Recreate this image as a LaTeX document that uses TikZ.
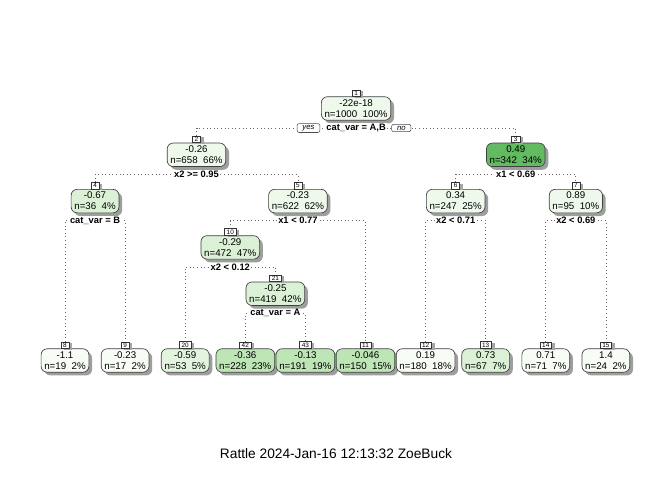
\documentclass[tikz,border=0pt]{standalone}
\usepackage{fontspec}
\setmainfont{Liberation Sans}
\usetikzlibrary{shadows,backgrounds}
\definecolor{g0}{HTML}{F7FCF5}
\definecolor{g1}{HTML}{EEF8EB}
\definecolor{g2}{HTML}{DBF1D5}
\definecolor{g2b}{HTML}{E3F4DE}
\definecolor{g3}{HTML}{BDE5B5}
\definecolor{g4}{HTML}{62BA61}
\tikzset{
 mainbox/.style={draw=black!75, line width=0.5pt, rounded corners=4.5pt, align=center,
   font=\fontsize{7.3}{8.25}\selectfont, inner xsep=2.4pt, inner ysep=2.1pt,
   general shadow={fill=black!38, shadow xshift=2.4pt, shadow yshift=-2.4pt}},
 numbox/.style={draw=black!80, line width=0.4pt, fill=white, font=\fontsize{4.8}{5}\selectfont,
   inner xsep=1.7pt, inner ysep=0.8pt, anchor=south,
   general shadow={fill=black!35, shadow xshift=2.4pt, shadow yshift=-1pt}},
 splitlabel/.style={font=\fontsize{7}{8}\selectfont\bfseries, fill=white, inner xsep=1pt, inner ysep=0.5pt},
 yesno/.style={draw=black!70, line width=0.4pt, rounded corners=1.5pt, fill=white,
   font=\fontsize{5.8}{6}\selectfont\itshape, inner xsep=4pt, inner ysep=1.2pt},
 branch/.style={draw=black!60, line width=0.6pt, dash pattern=on 0.6pt off 2.1pt},
}
% #1 name, #2 x, #3 y of first text line, #4 number, #5 fill, #6 value, #7 n line
\newcommand{\treenode}[7]{%
  \node[mainbox, fill=#5] (#1) at (#2,#3+5.5) {#6\\#7};
  \node[numbox] (#1n) at ([yshift=-0.2pt]#1.north) {#4};
}
\begin{document}
\begin{tikzpicture}[x=0.75pt,y=-0.75pt]
\useasboundingbox (0,0) rectangle (672,480);
% internal nodes
\treenode{n1}{356.1}{103}{1}{g1}{-22e-18}{n=1000\ \ 100\%}
\treenode{n2}{196.5}{149.3}{2}{g1}{-0.26}{n=658\ \ 66\%}
\treenode{n3}{515.75}{149.3}{3}{g4}{0.49}{n=342\ \ 34\%}
\treenode{n4}{95.05}{195.6}{4}{g2}{-0.67}{n=36\ \ 4\%}
\treenode{n5}{297.9}{195.6}{5}{g1}{-0.23}{n=622\ \ 62\%}
\treenode{n6}{455.65}{195.6}{6}{g1}{0.34}{n=247\ \ 25\%}
\treenode{n7}{575.85}{195.6}{7}{g1}{0.89}{n=95\ \ 10\%}
\treenode{n10}{230.3}{241.9}{10}{g2}{-0.29}{n=472\ \ 47\%}
\treenode{n21}{275.35}{288.2}{21}{g2}{-0.25}{n=419\ \ 42\%}
% leaves
\treenode{n8}{65}{355}{8}{g0}{-1.1}{n=19\ \ 2\%}
\treenode{n9}{125.1}{355}{9}{g0}{-0.23}{n=17\ \ 2\%}
\treenode{n20}{185.2}{355}{20}{g2b}{-0.59}{n=53\ \ 5\%}
\treenode{n42}{245.3}{355}{42}{g3}{-0.36}{n=228\ \ 23\%}
\treenode{n43}{305.4}{355}{43}{g3}{-0.13}{n=191\ \ 19\%}
\treenode{n11}{365.5}{355}{11}{g3}{-0.046}{n=150\ \ 15\%}
\treenode{n12}{425.6}{355}{12}{g0}{0.19}{n=180\ \ 18\%}
\treenode{n13}{485.7}{355}{13}{g2}{0.73}{n=67\ \ 7\%}
\treenode{n14}{545.8}{355}{14}{g0}{0.71}{n=71\ \ 7\%}
\treenode{n15}{605.9}{355}{15}{g0}{1.4}{n=24\ \ 2\%}
% split labels
\node[splitlabel] (n1s) at (356.1,128) {cat\_var = A,B};
\node[splitlabel] (n2s) at (196.5,174.3) {x2 >= 0.95};
\node[splitlabel] (n3s) at (515.75,174.3) {x1 < 0.69};
\node[splitlabel] (n4s) at (95.05,220.6) {cat\_var = B};
\node[splitlabel] (n5s) at (297.9,220.6) {x1 < 0.77};
\node[splitlabel] (n6s) at (455.65,220.6) {x2 < 0.71};
\node[splitlabel] (n7s) at (575.85,220.6) {x2 < 0.69};
\node[splitlabel] (n10s) at (230.3,266.9) {x2 < 0.12};
\node[splitlabel] (n21s) at (275.35,313.2) {cat\_var = A};
\node[yesno, anchor=east] (yes) at ([xshift=-3.5pt]n1s.west) {yes};
\node[yesno, anchor=west] (no) at ([xshift=3pt]n1s.east) {no};
% title
\node (title) at (336,454) {\fontsize{10.3}{12}\selectfont Rattle 2024-Jan-16 12:13:32 ZoeBuck};
% branches
\begin{pgfonlayer}{background}
\fill[white] (0,0) rectangle (672,480);
\draw[branch] (n2n.north) |- (n1s.center) -| (n3n.north);
\draw[branch] (n4n.north) |- (n2s.center) -| (n5n.north);
\draw[branch] (n6n.north) |- (n3s.center) -| (n7n.north);
\draw[branch] (n8n.north) |- (n4s.center) -| (n9n.north);
\draw[branch] (n10n.north) |- (n5s.center) -| (n11n.north);
\draw[branch] (n12n.north) |- (n6s.center) -| (n13n.north);
\draw[branch] (n14n.north) |- (n7s.center) -| (n15n.north);
\draw[branch] (n20n.north) |- (n10s.center) -| (n21n.north);
\draw[branch] (n42n.north) |- (n21s.center) -| (n43n.north);
\end{pgfonlayer}
\end{tikzpicture}
\end{document}
